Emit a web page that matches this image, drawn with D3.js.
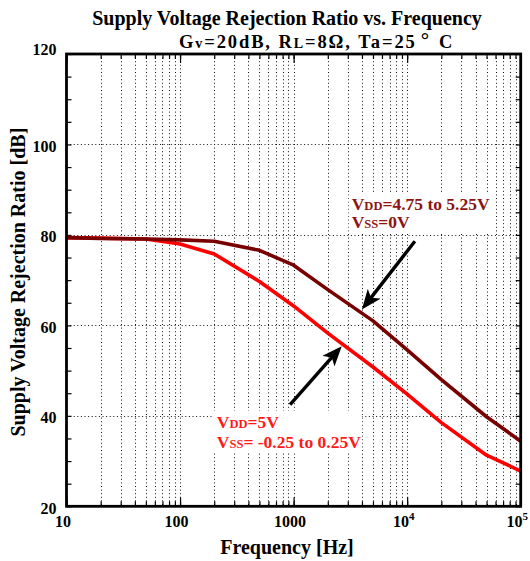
<!DOCTYPE html>
<html><head><meta charset="utf-8">
<script src="https://cdn.jsdelivr.net/npm/d3@7"></script>
<style>
body{margin:0;background:#fff}
svg{display:block}
text{font-family:"Liberation Serif","Times New Roman",serif;font-weight:bold}
</style>
</head><body>
<svg id="c" width="530" height="561"></svg>
<script>
// ---- data ----
const freqs = [10, 20, 50, 100, 200, 500, 1000, 2000, 5000, 10000, 20000, 50000, 100000];
const svrrVdd = [79.4, 79.2, 79.1, 78.9, 78.6, 76.6, 73.3, 67.9, 61.0, 54.6, 48.0, 39.8, 34.4];
const svrrVss = [79.4, 79.3, 79.1, 78.0, 75.8, 69.7, 64.3, 58.3, 50.8, 44.8, 38.5, 31.3, 27.8];
const xTickValues = [10, 100, 1000, 10000, 100000];
const xTickLabels = [["10", ""], ["100", ""], ["1000", ""], ["10", "4"], ["10", "5"]];
const yTickValues = [20, 40, 60, 80, 100, 120];
const yTickLabels = ["20", "40", "60", "80", "100", "120"];
const yGridValues = [40, 60, 80, 100];
// annotation: text anchor (freq, dB), arrow tail & tip (freq, dB)
const annVddLines = [["V", "DD", "=4.75 to 5.25V"], ["V", "SS", "=0V"]];
const annVssLines = [["V", "DD", "=5V"], ["V", "SS", "= -0.25 to 0.25V"]];
const annVddPos = [3250, 85.6, 81.6];
const annVssPos = [211, 37.4, 33.0];
const arrowVdd = [[11700, 78.6], [3990, 63.5]];
const arrowVss = [[931, 42.5], [2655, 55.4]];

const W = 530, H = 561;
const m = {l: 66.5, r: 9.3, t: 54, b: 54.7};
const svg = d3.select("#c");
const x = d3.scaleLog().domain([10, 1e5]).range([m.l, W - m.r]);
const y = d3.scaleLinear().domain([20, 120]).range([H - m.b, m.t]);

const xMinor = [];
for (let k = 1; k <= 4; k++) for (let j = 1; j <= 9; j++) xMinor.push(j * Math.pow(10, k));
xMinor.push(1e5);
const yMinor = d3.range(20, 121, 5);

// grid
const grid = svg.append("g").attr("stroke", "#111").attr("stroke-width", 1).attr("stroke-dasharray", "1,2.6");
grid.selectAll("line.v").data(xMinor.filter(d => d > 10 && d < 1e5)).join("line")
  .attr("x1", d => Math.round(x(d)) + 0.5).attr("x2", d => Math.round(x(d)) + 0.5)
  .attr("y1", y(120)).attr("y2", y(20));
grid.selectAll("line.h").data(yGridValues).join("line")
  .attr("y1", d => Math.round(y(d)) + 0.5).attr("y2", d => Math.round(y(d)) + 0.5)
  .attr("x1", x(10)).attr("x2", x(1e5));

// tick marks (inside)
function ticks(axis, tx, ty) {
  const g = svg.append("g").attr("transform", `translate(${tx},${ty})`).call(axis);
  g.select(".domain").remove();
  g.selectAll("line").attr("stroke", "#000").attr("stroke-width", 1.2);
  return g;
}
ticks(d3.axisBottom(x).tickValues(xMinor).tickSize(-5).tickFormat(""), 0, y(20));
ticks(d3.axisTop(x).tickValues(xMinor).tickSize(-5).tickFormat(""), 0, y(120));
ticks(d3.axisBottom(x).tickValues(xTickValues).tickSize(-9).tickFormat(""), 0, y(20));
ticks(d3.axisTop(x).tickValues(xTickValues).tickSize(-9).tickFormat(""), 0, y(120));
ticks(d3.axisLeft(y).tickValues(yMinor).tickSize(-5).tickFormat(""), x(10), 0);
ticks(d3.axisRight(y).tickValues(yMinor).tickSize(-5).tickFormat(""), x(1e5), 0);

// annotation boxes + text
function annotate(lines, pos, color) {
  const g = svg.append("g");
  const rect = g.append("rect").attr("fill", "#fff");
  const t = g.append("text").attr("fill", color).attr("font-size", 17.5);
  lines.forEach((ln, i) => {
    t.append("tspan").attr("x", x(pos[0])).attr("y", y(pos[1 + i])).text(ln[0]);
    t.append("tspan").attr("font-size", 12.5).text(ln[1]);
    t.append("tspan").text(ln[2]);
  });
  const bb = t.node().getBBox();
  rect.attr("x", bb.x - 3).attr("y", bb.y - 1).attr("width", bb.width + 4).attr("height", bb.height + 2);
  return g;
}
annotate(annVddLines, annVddPos, "#8E1414");
annotate(annVssLines, annVssPos, "#FF1A1A");

// curves
const line = d3.line().x(d => x(d[0])).y(d => y(d[1]));
svg.append("path").datum(freqs.map((f, i) => [f, svrrVss[i]]))
  .attr("d", line).attr("fill", "none").attr("stroke", "#FF0000").attr("stroke-width", 3.6).attr("stroke-linejoin", "round");
svg.append("path").datum(freqs.map((f, i) => [f, svrrVdd[i]]))
  .attr("d", line).attr("fill", "none").attr("stroke", "#780000").attr("stroke-width", 3.6).attr("stroke-linejoin", "round");

// arrows
svg.append("defs").append("marker").attr("id", "ah")
  .attr("markerUnits", "userSpaceOnUse").attr("viewBox", "0 0 20 16")
  .attr("markerWidth", 20).attr("markerHeight", 16).attr("refX", 10).attr("refY", 8)
  .attr("orient", "auto")
  .append("path").attr("d", "M0,0 L20,8 L0,16 L5,8 Z").attr("fill", "#000");
function arrow(a) {
  const x0 = x(a[0][0]), y0 = y(a[0][1]), x1 = x(a[1][0]), y1 = y(a[1][1]);
  const L = Math.hypot(x1 - x0, y1 - y0), ux = (x1 - x0) / L, uy = (y1 - y0) / L;
  svg.append("path").attr("d", `M${x0},${y0}L${x1 - ux * 10},${y1 - uy * 10}`)
    .attr("stroke", "#000").attr("stroke-width", 3.4).attr("fill", "none")
    .attr("marker-end", "url(#ah)");
}
arrow(arrowVdd);
arrow(arrowVss);

// frame
svg.append("rect").attr("x", x(10)).attr("y", y(120)).attr("width", x(1e5) - x(10)).attr("height", y(20) - y(120))
  .attr("fill", "none").attr("stroke", "#000").attr("stroke-width", 2.8);

// tick labels
const yl = svg.append("g").attr("transform", `translate(${x(10)},0)`)
  .call(d3.axisLeft(y).tickValues(yTickValues).tickSize(0).tickPadding(10)
    .tickFormat((d, i) => yTickLabels[i]));
yl.select(".domain").remove();
yl.selectAll("text").attr("font-size", 16).attr("fill", "#000")
  .attr("dy", d => d === 120 ? "-0.0em" : "0.42em")
  .style("font-family", "Liberation Serif").style("font-weight", "bold");

const xl = svg.append("g").attr("transform", `translate(0,${y(20)})`)
  .call(d3.axisBottom(x).tickValues(xTickValues).tickSize(0).tickPadding(9).tickFormat(""));
xl.select(".domain").remove();
xl.selectAll(".tick text").each(function(d, i) {
  const t = d3.select(this).attr("font-size", 16).attr("fill", "#000").attr("dx", "-4")
    .style("font-family", "Liberation Serif").style("font-weight", "bold");
  t.text(null);
  t.append("tspan").text(xTickLabels[i][0]);
  if (xTickLabels[i][1]) t.append("tspan").attr("font-size", 11).attr("dy", "-0.6em").text(xTickLabels[i][1]);
});

// titles
svg.append("text").attr("x", 287).attr("y", 25).attr("text-anchor", "middle").attr("font-size", 20)
  .text("Supply Voltage Rejection Ratio vs. Frequency");
const st = svg.append("text").attr("x", 179).attr("y", 48).attr("font-size", 18.5)
  .attr("letter-spacing", 1.9);
st.append("tspan").text("G");
st.append("tspan").attr("font-size", 14).text("v");
st.append("tspan").text("=20dB, R");
st.append("tspan").attr("font-size", 14).text("L");
st.append("tspan").text("=8Ω, Ta=25");
st.append("tspan").attr("font-size", 21).attr("dx", 4).attr("dy", -1).text("°");
st.append("tspan").attr("dx", 8).attr("dy", 1).text("C");

svg.append("text").attr("x", 287).attr("y", 554).attr("text-anchor", "middle").attr("font-size", 20)
  .text("Frequency [Hz]");
svg.append("text").attr("transform", `translate(25,${(y(20) + y(120)) / 2 + 2}) rotate(-90)`)
  .attr("text-anchor", "middle").attr("font-size", 20)
  .text("Supply Voltage Rejection Ratio [dB]");
</script>
</body></html>
